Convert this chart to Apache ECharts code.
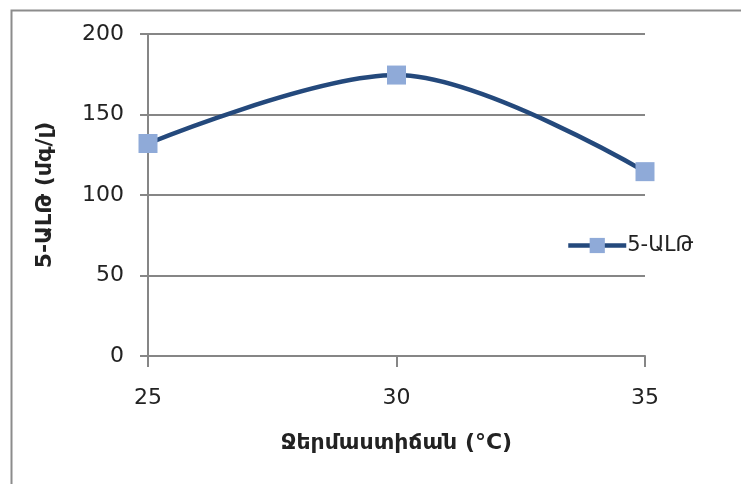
<!DOCTYPE html>
<html>
<head>
<meta charset="utf-8">
<script src="https://cdn.jsdelivr.net/npm/echarts@6/dist/echarts.min.js"></script>
<style>html,body{margin:0;padding:0;background:#fff;}#c{width:741px;height:484px;}</style>
</head>
<body>
<div id="c"></div>
<script>
var temperatures = [25, 30, 35];
var alaValues = [132, 174.5, 114.5];
var seriesName = '5-ԱԼԹ';
var xTitle = 'Ջերմաստիճան (°C)';
var yTitle = '5-ԱԼԹ (մգ/լ)';

var chart = echarts.init(document.getElementById('c'));
chart.setOption({
  animation: false,
  backgroundColor: '#ffffff',
  graphic: [{
    type: 'rect', left: 9, top: 8,
    shape: { width: 760, height: 500 },
    style: { fill: 'none', stroke: '#8c8c8c', lineWidth: 2 }
  }],
  grid: { left: 148, right: 96, top: 34, bottom: 128 },
  legend: {
    data: [seriesName],
    left: 566, top: 235, padding: 0,
    itemWidth: 58, itemHeight: 19, itemGap: 4,
    lineStyle: { color: '#24497c', width: 4.5 },
    textStyle: { fontFamily: 'DejaVu Sans', fontSize: 21, color: '#222', padding: [0, 0, 0, -4] }
  },
  xAxis: {
    type: 'value', min: 25, max: 35, interval: 5,
    name: xTitle, nameLocation: 'middle', nameGap: 76,
    nameTextStyle: { fontFamily: 'DejaVu Sans', fontSize: 22, fontWeight: 'bold', color: '#222' },
    axisLine: { show: true, lineStyle: { color: '#868686', width: 2 } },
    axisTick: { show: true, length: 11, inside: false, lineStyle: { color: '#868686', width: 2 } },
    axisLabel: { margin: 31, fontFamily: 'DejaVu Sans', fontSize: 22, color: '#222' },
    splitLine: { show: false }
  },
  yAxis: {
    type: 'value', min: 0, max: 200, interval: 50,
    name: yTitle, nameLocation: 'middle', nameGap: 92, nameRotate: 90,
    nameTextStyle: { fontFamily: 'DejaVu Sans', fontSize: 22, fontWeight: 'bold', color: '#222' },
    axisLine: { show: true, lineStyle: { color: '#868686', width: 2 } },
    axisTick: { show: true, length: 8, lineStyle: { color: '#868686', width: 2 } },
    axisLabel: { margin: 24, fontFamily: 'DejaVu Sans', fontSize: 22, color: '#222' },
    splitLine: { show: true, lineStyle: { color: '#868686', width: 2 } }
  },
  series: [{
    name: seriesName,
    type: 'line',
    smooth: 0.33,
    data: temperatures.map(function (t, i) { return [t, alaValues[i]]; }),
    symbol: 'rect', symbolSize: 19,
    lineStyle: { color: '#24497c', width: 4.5 },
    itemStyle: { color: '#8faad8', borderColor: '#8faad8', borderWidth: 0 }
  }]
});
</script>
</body>
</html>
